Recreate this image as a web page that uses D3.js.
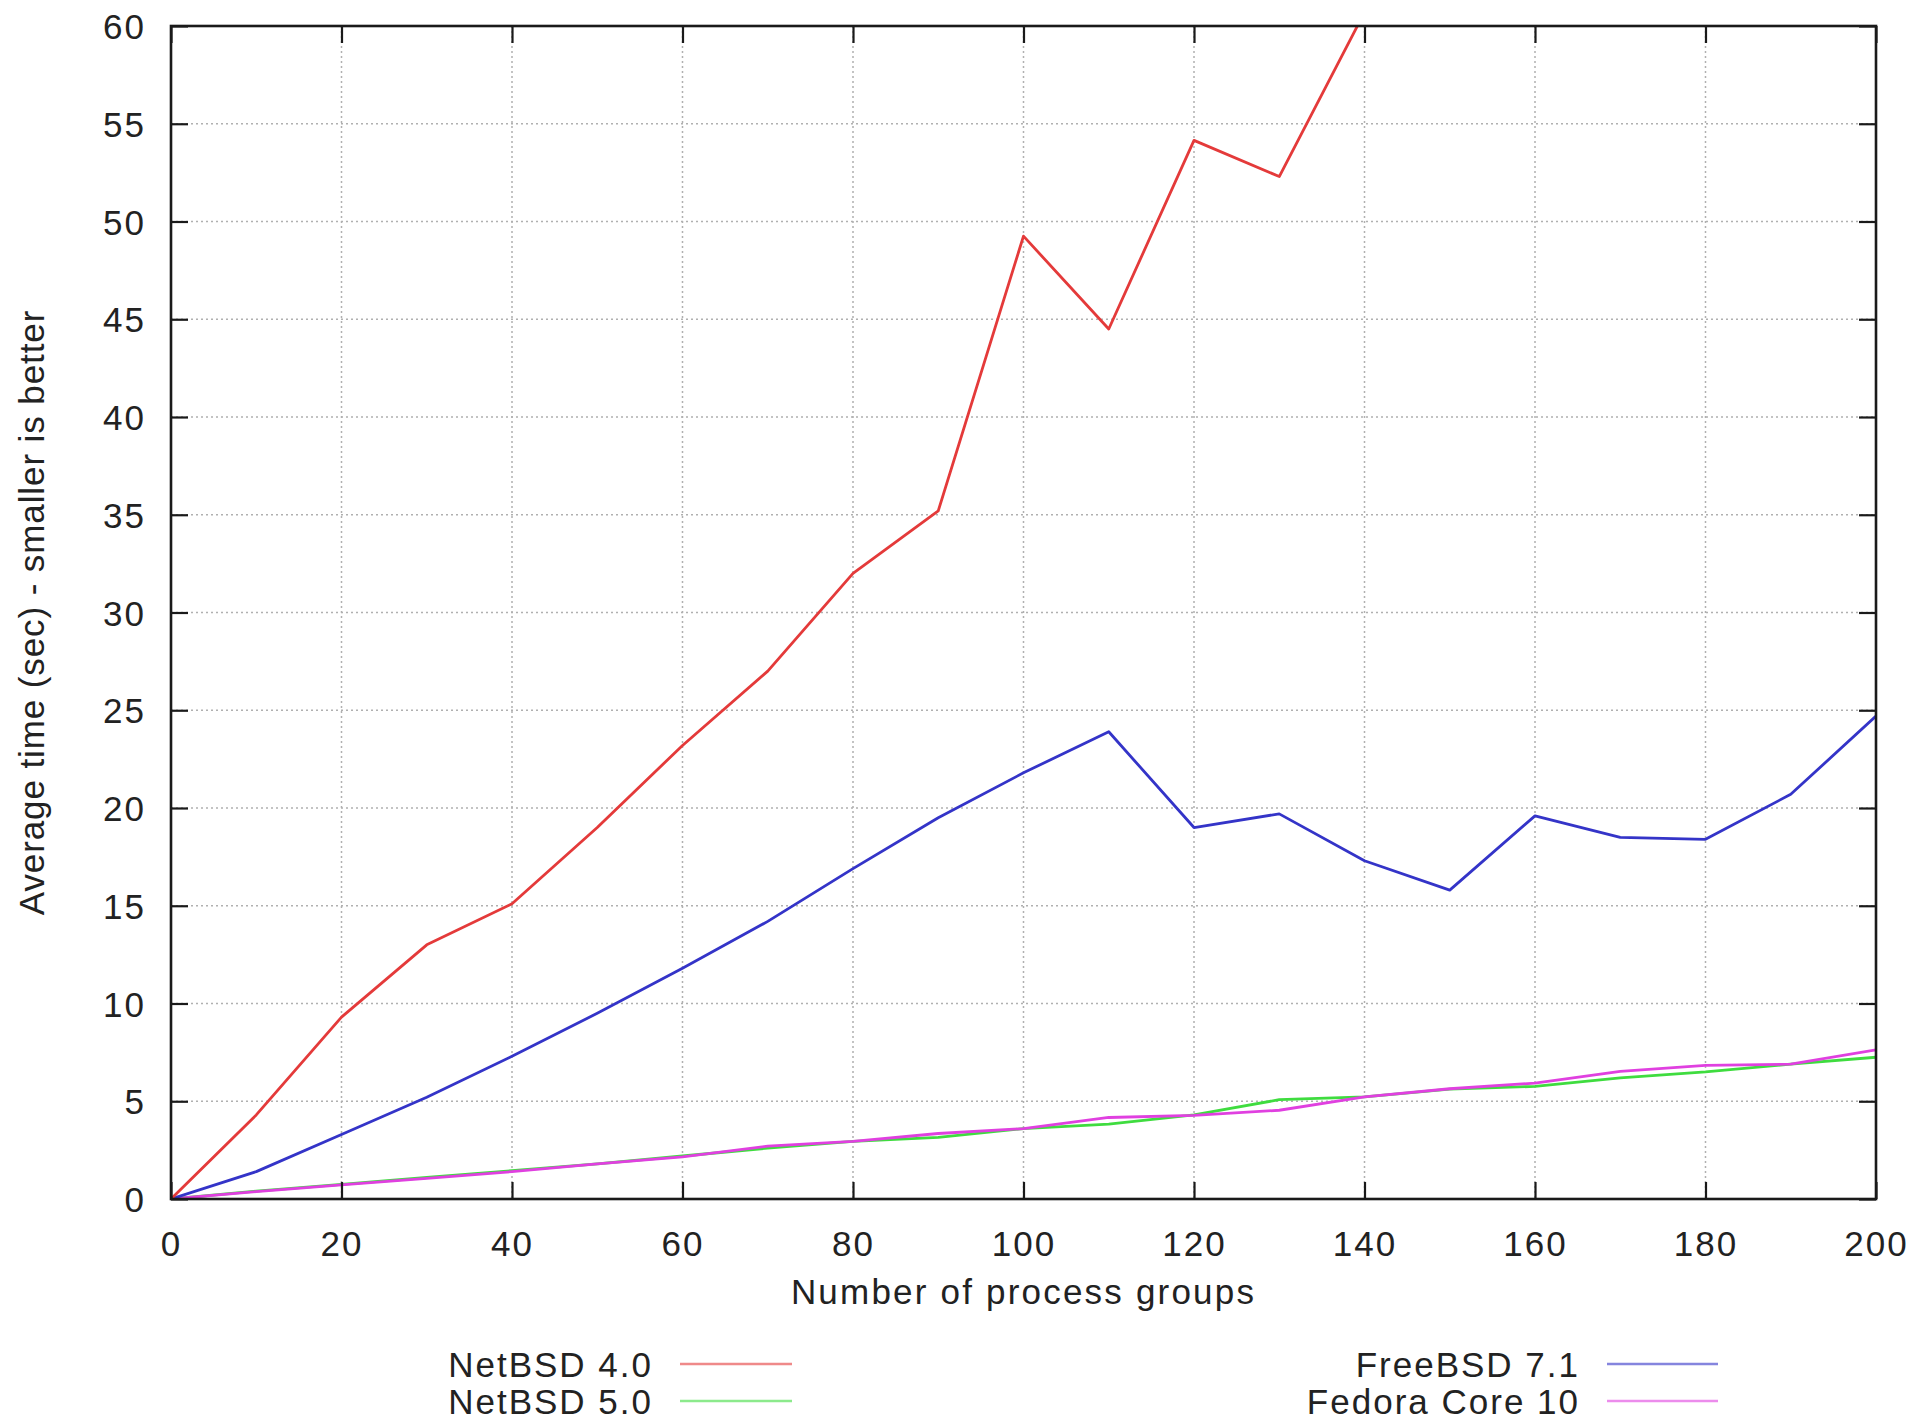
<!DOCTYPE html>
<html>
<head>
<meta charset="utf-8">
<script src="https://cdn.jsdelivr.net/npm/d3@7"></script>
<style>
  html, body { margin: 0; padding: 0; background: #fff; }
  svg text { font-family: "Liberation Sans", Arial, Helvetica, sans-serif; fill: #222; }
</style>
</head>
<body>
<script>
// ---- data ----
const xValues = [0, 10, 20, 30, 40, 50, 60, 70, 80, 90, 100, 110, 120, 130, 140, 150, 160, 170, 180, 190, 200];
const netbsd40 = [0, 4.3, 9.3, 13.0, 15.1, 19.0, 23.2, 27.0, 32.0, 35.2, 49.25, 44.5, 54.15, 52.3, 60.7];
const freebsd71 = [0, 1.4, 3.3, 5.2, 7.3, 9.5, 11.8, 14.2, 16.9, 19.5, 21.8, 23.9, 19.0, 19.7, 17.3, 15.8, 19.6, 18.5, 18.4, 20.7, 24.7];
const netbsd50 = [0, 0.4, 0.75, 1.1, 1.45, 1.8, 2.2, 2.6, 2.95, 3.15, 3.6, 3.83, 4.3, 5.08, 5.22, 5.62, 5.76, 6.2, 6.5, 6.9, 7.25];
const fedora10 = [0, 0.38, 0.72, 1.05, 1.4, 1.8, 2.15, 2.7, 2.95, 3.35, 3.6, 4.17, 4.28, 4.54, 5.22, 5.64, 5.93, 6.53, 6.83, 6.9, 7.63];
const xTicks = [0, 20, 40, 60, 80, 100, 120, 140, 160, 180, 200];
const yTicks = [0, 5, 10, 15, 20, 25, 30, 35, 40, 45, 50, 55, 60];
const seriesNames = ["NetBSD 4.0", "NetBSD 5.0", "FreeBSD 7.1", "Fedora Core 10"];
const xLabel = "Number of process groups";
const yLabel = "Average time (sec) - smaller is better";

// ---- layout ----
const W = 1921, H = 1423;
const L = 171, R = 1876, T = 26, B = 1199;
const colors = { "NetBSD 4.0": "#e43a3a", "NetBSD 5.0": "#3fdc3f", "FreeBSD 7.1": "#3434c8", "Fedora Core 10": "#e040e0" };

const svg = d3.select("body").append("svg").attr("width", W).attr("height", H);
const x = d3.scaleLinear().domain([0, 200]).range([L, R]);
const y = d3.scaleLinear().domain([0, 60]).range([B, T]);

// grid
const grid = svg.append("g");
grid.selectAll("line.gx").data(xTicks.slice(1, -1)).enter().append("line")
  .attr("x1", d => x(d)).attr("x2", d => x(d)).attr("y1", T).attr("y2", B)
  .attr("stroke", "#b0b0b0").attr("stroke-width", 1.5).attr("stroke-dasharray", "2,3");
grid.selectAll("line.gy").data(yTicks.slice(1, -1)).enter().append("line")
  .attr("y1", d => y(d)).attr("y2", d => y(d)).attr("x1", L).attr("x2", R)
  .attr("stroke", "#b0b0b0").attr("stroke-width", 1.5).attr("stroke-dasharray", "2,3");

// series lines
svg.append("clipPath").attr("id", "clip").append("rect")
  .attr("x", L).attr("y", T).attr("width", R - L).attr("height", B - T);
const seriesData = [
  { name: "NetBSD 5.0", vals: netbsd50 },
  { name: "Fedora Core 10", vals: fedora10 },
  { name: "FreeBSD 7.1", vals: freebsd71 },
  { name: "NetBSD 4.0", vals: netbsd40 }
];
const line = d3.line().x(d => x(d[0])).y(d => y(d[1]));
const lg = svg.append("g").attr("clip-path", "url(#clip)");
seriesData.forEach(s => {
  const pts = s.vals.map((v, i) => [xValues[i], v]);
  lg.append("path").datum(pts).attr("d", line)
    .attr("fill", "none").attr("stroke", colors[s.name]).attr("stroke-width", 2.8)
    .attr("stroke-linejoin", "round");
});

// frame
svg.append("rect").attr("x", L).attr("y", T).attr("width", R - L).attr("height", B - T)
  .attr("fill", "none").attr("stroke", "#1a1a1a").attr("stroke-width", 2.6);

// axes with inward ticks
const fs = 35;
const xAxisB = d3.axisBottom(x).tickValues(xTicks).tickSizeInner(-17).tickSizeOuter(0).tickPadding(32);
const gxB = svg.append("g").attr("transform", `translate(0,${B})`).call(xAxisB);
const xAxisT = d3.axisTop(x).tickValues(xTicks).tickSizeInner(-17).tickSizeOuter(0).tickFormat("");
const gxT = svg.append("g").attr("transform", `translate(0,${T})`).call(xAxisT);
const yAxisL = d3.axisLeft(y).tickValues(yTicks).tickSizeInner(-17).tickSizeOuter(0).tickPadding(25);
const gyL = svg.append("g").attr("transform", `translate(${L},0)`).call(yAxisL);
const yAxisR = d3.axisRight(y).tickValues(yTicks).tickSizeInner(-17).tickSizeOuter(0).tickFormat("");
const gyR = svg.append("g").attr("transform", `translate(${R},0)`).call(yAxisR);
[gxB, gxT, gyL, gyR].forEach(g => {
  g.select(".domain").remove();
  g.selectAll(".tick line").attr("stroke", "#1a1a1a").attr("stroke-width", 2.2);
  g.selectAll(".tick text").attr("font-size", fs).attr("fill", "#222")
    .attr("font-family", "Liberation Sans, Arial, sans-serif").style("letter-spacing", "2px");
});
gxB.selectAll(".tick text").attr("dy", "0.71em");
gyL.selectAll(".tick text").attr("dy", "0.36em");

// axis titles
svg.append("text").attr("x", (L + R) / 2).attr("y", 1291).attr("dy", "0.36em")
  .attr("text-anchor", "middle").attr("font-size", fs).style("letter-spacing", "2.2px").text(xLabel);
svg.append("text").attr("transform", `translate(31,${(T + B) / 2}) rotate(-90)`).attr("dy", "0.36em")
  .attr("text-anchor", "middle").attr("font-size", fs).style("letter-spacing", "0.9px").text(yLabel);

// legend
const legendPos = {
  "NetBSD 4.0": { tx: 653, y: 1364, x1: 680, x2: 792 },
  "NetBSD 5.0": { tx: 653, y: 1401, x1: 680, x2: 792 },
  "FreeBSD 7.1": { tx: 1580, y: 1364, x1: 1607, x2: 1718 },
  "Fedora Core 10": { tx: 1580, y: 1401, x1: 1607, x2: 1718 }
};
const leg = svg.append("g");
seriesNames.forEach(n => {
  const p = legendPos[n];
  leg.append("text").attr("x", p.tx).attr("y", p.y).attr("dy", "0.36em")
    .attr("text-anchor", "end").attr("font-size", fs).style("letter-spacing", "2px").text(n);
  leg.append("line").attr("x1", p.x1).attr("x2", p.x2).attr("y1", p.y).attr("y2", p.y)
    .attr("stroke", colors[n]).attr("stroke-width", 2.6).attr("stroke-opacity", 0.6);
});
</script>
</body>
</html>
